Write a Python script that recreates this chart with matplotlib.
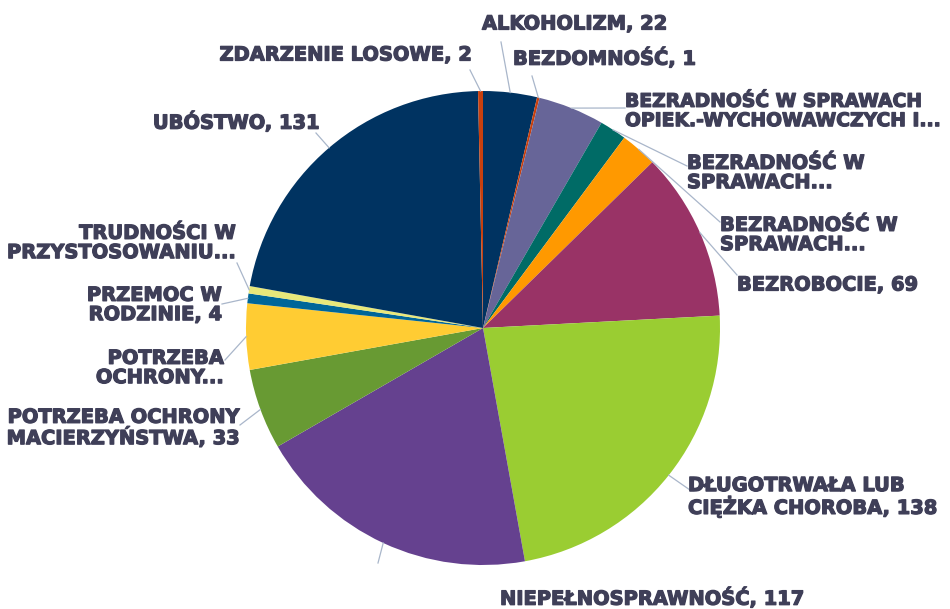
import numpy as np
import matplotlib
matplotlib.use("Agg")
import matplotlib.pyplot as plt
import matplotlib.patheffects as pe

# categories (clockwise from 12 o'clock)
labels = [
    "ALKOHOLIZM, 22",
    "BEZDOMNOŚĆ, 1",
    "BEZRADNOŚĆ W SPRAWACH\nOPIEK.-WYCHOWAWCZYCH I...",
    "BEZRADNOŚĆ W\nSPRAWACH...",
    "BEZRADNOŚĆ W\nSPRAWACH...",
    "BEZROBOCIE, 69",
    "DŁUGOTRWAŁA LUB\nCIĘŻKA CHOROBA, 138",
    "NIEPEŁNOSPRAWNOŚĆ, 117",
    "POTRZEBA OCHRONY\nMACIERZYŃSTWA, 33",
    "POTRZEBA\nOCHRONY...",
    "PRZEMOC W\nRODZINIE, 4",
    "TRUDNOŚCI W\nPRZYSTOSOWANIU...",
    "UBÓSTWO, 131",
    "ZDARZENIE LOSOWE, 2",
]
values = [22, 1, 27, 11, 15, 69, 138, 117, 33, 27, 4, 3, 131, 2]
colors = ["#003361", "#C8400E", "#676598", "#006B66", "#FF9900", "#993366",
          "#9ACD32", "#65418F", "#689A33", "#FFCC33", "#006699", "#E8E87A",
          "#003361", "#C8400E"]

# label placement in pixels from top-left: (x, y, ha, leader end x, leader end y)
label_pos = [
    (482, 24, "left", 501, 42),
    (513, 58, "left", 532, 76),
    (625, 111, "left", 625, 108),
    (687, 173, "left", 687, 166),
    (720, 235, "left", 720, 222),
    (737, 285, "left", 737, 275),
    (688, 497, "left", 690, 490),
    (500, 598, "left", 378, 563),
    (240, 428, "right", 240, 425),
    (224, 368, "right", 225, 360),
    (222, 305, "right", 222, 304),
    (236, 243, "right", 237, 263),
    (320, 122, "right", 316, 133),
    (472, 55, "right", 470, 70),
]

W, H = 950, 609
cx, cy, R = 483, 328, 237
text_color = "#3F3F58"
line_color = "#A9B6CA"

fig = plt.figure(figsize=(9.5, 6.09), dpi=100)
ax = fig.add_axes([0, 0, 1, 1])
ax.set_aspect("equal")
ax.axis("off")

wedges, _ = ax.pie(values, colors=colors, startangle=90, counterclock=False,
                   center=(cx, H - cy), radius=R,
                   wedgeprops=dict(linewidth=0))
ax.set_xlim(0, W)
ax.set_ylim(0, H)

texts = []
for w, lab, (tx, ty, ha, lx, ly) in zip(wedges, labels, label_pos):
    mid = np.deg2rad((w.theta1 + w.theta2) / 2)
    sx = cx + R * np.cos(mid)
    sy = (H - cy) + R * np.sin(mid)
    ax.plot([sx, lx], [sy, H - ly], color=line_color, lw=0.9)
    t = ax.text(tx, H - ty, lab, ha=ha, va="center", color=text_color,
                fontsize=14, fontweight="bold", family="DejaVu Sans",
                linespacing=1.02, multialignment=ha,
                path_effects=[pe.withStroke(linewidth=0.9, foreground=text_color)])
    texts.append(t)

# shrink any label that runs past the right edge
renderer = fig.canvas.get_renderer()
for t in texts:
    while t.get_window_extent(renderer).x1 > W - 3 and t.get_fontsize() > 8:
        t.set_fontsize(t.get_fontsize() - 0.25)

fig.savefig("out.png", dpi=100)
